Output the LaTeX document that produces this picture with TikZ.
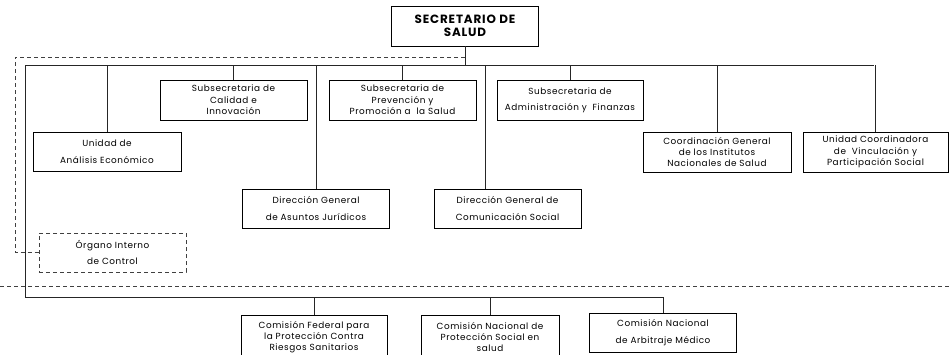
\documentclass[tikz,border=0pt]{standalone}
\usepackage{fontspec}
\setmainfont{Poppins}
\newfontfamily\orgfont[LetterSpace=6]{Poppins}
\newfontfamily\titlefont[LetterSpace=7]{Poppins}
\begin{document}
\begin{tikzpicture}[x=1bp,y=-1bp,
  orgbox/.style={draw=black,line width=0.8bp,inner sep=0pt,align=center,
    font=\orgfont\fontsize{8.9}{11.5}\selectfont},
  twoline/.style={font=\orgfont\fontsize{8.9}{16.5}\selectfont},
  tight/.style={font=\orgfont\fontsize{8.9}{10.8}\selectfont},
  conn/.style={draw=black!85,line width=0.8bp},
  dashline/.style={draw=black!75,line width=0.8bp,dash pattern=on 4bp off 3bp},
]
\useasboundingbox (0,0) rectangle (949,354);
% top
\node[orgbox,minimum width=147bp,minimum height=40bp,
  font=\titlefont\fontsize{12}{13}\selectfont\bfseries] (top) at (465,26) {SECRETARIO DE\\SALUD};
% first row
\node[orgbox,minimum width=147bp,minimum height=40bp] (cal) at (233.5,100)
  {Subsecretaria de\\Calidad e\\Innovación};
\node[orgbox,minimum width=147bp,minimum height=40bp] (prev) at (402.5,100)
  {Subsecretaria de\\Prevención y\\Promoción a\ \ la Salud};
\node[orgbox,twoline,minimum width=146bp,minimum height=40bp] (adm) at (570,100)
  {Subsecretaria de\\Administración y\ \ Finanzas};
% second row
\node[orgbox,twoline,minimum width=148bp,minimum height=39bp] (ana) at (107,151.5)
  {Unidad de\\Análisis Económico};
\node[orgbox,minimum width=148bp,minimum height=40bp] (cgi) at (717,152)
  {Coordinación General\\de los Institutos\\Nacionales de Salud};
\node[orgbox,minimum width=145bp,minimum height=40bp] (ucv) at (875.5,152)
  {Unidad Coordinadora\\de\ \ Vinculación y\\Participación Social};
% third row
\node[orgbox,twoline,minimum width=147bp,minimum height=39bp] (jur) at (316,208.5)
  {Dirección General\\de Asuntos Jurídicos};
\node[orgbox,twoline,minimum width=147bp,minimum height=39bp] (com) at (507.5,208.5)
  {Dirección General de\\Comunicación Social};
% organo interno
\node[orgbox,twoline,draw=black!75,dash pattern=on 4bp off 3bp,
  minimum width=147bp,minimum height=39bp] (oic) at (112.5,252.5)
  {Órgano Interno\\de Control};
% bottom row
\node[orgbox,tight,minimum width=146bp,minimum height=44bp] (cof) at (314,337)
  {Comisión Federal para\\la Protección Contra\\Riesgos Sanitarios};
\node[orgbox,tight,minimum width=138bp,minimum height=44bp] (cnp) at (490,337)
  {Comisión Nacional de\\Protección Social en\\salud};
\node[orgbox,twoline,minimum width=147bp,minimum height=39bp] (arb) at (663,332.5)
  {Comisión Nacional\\de Arbitraje Médico};
% buses
\coordinate (busL) at (25,65);
\coordinate (busR) at (874,65);
\coordinate (bbL) at (25,297);
\coordinate (bbR) at (663,297);
\coordinate (dA) at (465,57);
\coordinate (dB) at (15,57);
\coordinate (lnL) at (0,286);
\coordinate (lnR) at (949,286);
\draw[conn] (top.south) -- (top.south |- busL);
\draw[conn] (busL) -- (busR);
\draw[conn] (busL) -- (bbL) -- (bbR);
\draw[conn] (cal.north) -- (cal.north |- busL);
\draw[conn] (prev.north) -- (prev.north |- busL);
\draw[conn] (adm.north) -- (adm.north |- busL);
\draw[conn] (ana.north) -- (ana.north |- busL);
\draw[conn] (cgi.north) -- (cgi.north |- busL);
\draw[conn] (ucv.north) -- (ucv.north |- busL);
\draw[conn] (jur.north) -- (jur.north |- busL);
\draw[conn] ([xshift=-22.5bp]com.north) -- ([xshift=-22.5bp]com.north |- busL);
\draw[conn] (cof.north) -- (cof.north |- bbL);
\draw[conn] (cnp.north) -- (cnp.north |- bbL);
\draw[conn] (arb.north) -- (arb.north |- bbL);
% dashed lines
\draw[dashline] (dA) -- (dB) |- (oic.west);
\draw[dashline] (lnL) -- (lnR);
\end{tikzpicture}
\end{document}
